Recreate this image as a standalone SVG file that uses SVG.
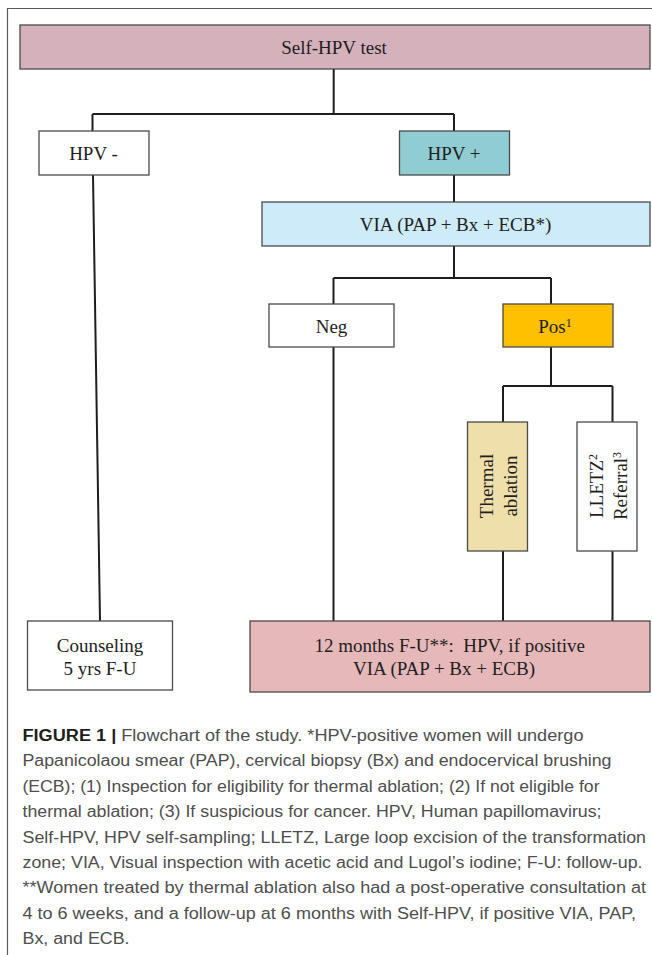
<svg xmlns="http://www.w3.org/2000/svg" width="652" height="955" viewBox="0 0 652 955">
<style>
.box{stroke:#4a4a4a;stroke-width:1.3}
.t{font-family:"Liberation Serif","Times New Roman",serif;font-size:19px;fill:#1e1e1e}
.c{text-anchor:middle}
.sup{font-size:12px}
.con{fill:none;stroke:#1e1e1e;stroke-width:2}
.cap{font-family:"Liberation Sans",Arial,sans-serif;font-size:16px;fill:#4e4e4e}
.capb{font-weight:bold;fill:#1e1e1e}
</style>
<rect x="0" y="0" width="652" height="955" fill="#ffffff"/>
<g id="frame" fill="none" stroke="#5a5a5a" stroke-width="1.2">
<path d="M7.5,955 V8.5 H652"/>
</g>
<g id="connectors" class="con">
<path d="M333.7,69 V114 M92.5,114 H454 M92.5,114 V131 M454,114 V131"/>
<path d="M93,175 L100,621"/>
<path d="M454,175 V202"/>
<path d="M454,246 V278 M333.5,278 H551 M333.5,278 V304 M551,278 V304"/>
<path d="M333.5,347 V621"/>
<path d="M551,347 V386 M503,386 H612.5 M503,386 V422 M612.5,386 V422"/>
<path d="M503,551 V621 M612.5,551 V621"/>
</g>
<g id="self-hpv">
<rect class="box" x="20" y="25" width="630" height="44" fill="#d5b1bc"/>
<text class="t c" x="334" y="53.5">Self-HPV test</text>
</g>
<g id="hpv-neg">
<rect class="box" x="39" y="131" width="110" height="44" fill="#ffffff"/>
<text class="t c" x="93.5" y="159.5">HPV -</text>
</g>
<g id="hpv-pos">
<rect class="box" x="399.5" y="131" width="110" height="44" fill="#8fcdd3"/>
<text class="t c" x="454" y="159.5">HPV +</text>
</g>
<g id="via">
<rect class="box" x="262" y="202" width="388" height="44" fill="#cdebf9"/>
<text class="t c" x="455.5" y="231">VIA (PAP + Bx + ECB*)</text>
</g>
<g id="neg">
<rect class="box" x="269" y="304" width="125" height="43" fill="#ffffff"/>
<text class="t c" x="331.5" y="333">Neg</text>
</g>
<g id="pos">
<rect class="box" x="503" y="304" width="110" height="43" fill="#ffc000"/>
<text class="t c" x="555" y="333">Pos<tspan class="sup" dy="-6">1</tspan></text>
</g>
<g id="thermal">
<rect class="box" x="467.5" y="422" width="60" height="129" fill="#efdfab"/>
<text class="t c" transform="translate(492.7,486) rotate(-90)">Thermal</text>
<text class="t c" transform="translate(516.7,486) rotate(-90)">ablation</text>
</g>
<g id="lletz">
<rect class="box" x="577" y="422" width="60" height="129" fill="#ffffff"/>
<text class="t c" transform="translate(603.3,486) rotate(-90)">LLETZ<tspan class="sup" dy="-6">2</tspan></text>
<text class="t c" transform="translate(626.7,486) rotate(-90)">Referral<tspan class="sup" dy="-6">3</tspan></text>
</g>
<g id="counseling">
<rect class="box" x="27.5" y="621" width="145" height="69" fill="#ffffff"/>
<text class="t c" x="100" y="652">Counseling</text>
<text class="t c" x="100" y="674.5">5 yrs F-U</text>
</g>
<g id="followup">
<rect class="box" x="250" y="621" width="400" height="71" fill="#e6b8b9"/>
<text class="t c" x="449.7" y="652" xml:space="preserve">12 months F-U**:  HPV, if positive</text>
<text class="t c" x="444" y="675">VIA (PAP + Bx + ECB)</text>
</g>
<g id="caption" class="cap">
<text x="22.5" y="741" textLength="561" lengthAdjust="spacingAndGlyphs"><tspan class="capb">FIGURE 1 | </tspan>Flowchart of the study. *HPV-positive women will undergo</text>
<text x="22.5" y="766.4" textLength="589" lengthAdjust="spacingAndGlyphs">Papanicolaou smear (PAP), cervical biopsy (Bx) and endocervical brushing</text>
<text x="22.5" y="791.8" textLength="577" lengthAdjust="spacingAndGlyphs">(ECB); (1) Inspection for eligibility for thermal ablation; (2) If not eligible for</text>
<text x="22.5" y="817.2" textLength="579" lengthAdjust="spacingAndGlyphs">thermal ablation; (3) If suspicious for cancer. HPV, Human papillomavirus;</text>
<text x="22.5" y="842.6" textLength="623.5" lengthAdjust="spacingAndGlyphs">Self-HPV, HPV self-sampling; LLETZ, Large loop excision of the transformation</text>
<text x="22.5" y="868" textLength="620" lengthAdjust="spacingAndGlyphs">zone; VIA, Visual inspection with acetic acid and Lugol’s iodine; F-U: follow-up.</text>
<text x="22.5" y="893.4" textLength="623.5" lengthAdjust="spacingAndGlyphs">**Women treated by thermal ablation also had a post-operative consultation at</text>
<text x="22.5" y="918.8" textLength="613.5" lengthAdjust="spacingAndGlyphs">4 to 6 weeks, and a follow-up at 6 months with Self-HPV, if positive VIA, PAP,</text>
<text x="22.5" y="944.2" textLength="107" lengthAdjust="spacingAndGlyphs">Bx, and ECB.</text>
</g>
</svg>
